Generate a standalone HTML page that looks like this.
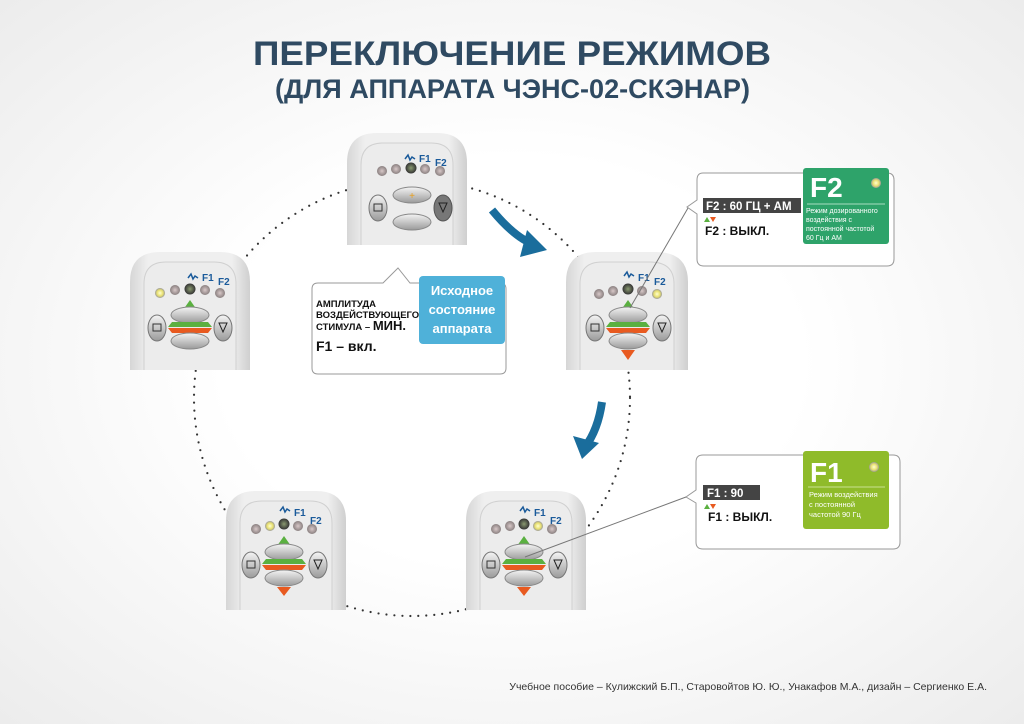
<!DOCTYPE html>
<html><head><meta charset="utf-8"><style>
body{margin:0;width:1024px;height:724px;overflow:hidden;background:radial-gradient(ellipse at 50% 50%,#ffffff 40%,#ececec 100%);font-family:"Liberation Sans",sans-serif}
svg{position:absolute;left:0;top:0}
</style></head><body>
<svg width="1024" height="724" viewBox="0 0 1024 724" font-family="Liberation Sans, sans-serif">
<defs>
<linearGradient id="bd" x1="0" x2="1"><stop offset="0" stop-color="#d6d6d6"/><stop offset=".15" stop-color="#efefef"/><stop offset=".85" stop-color="#efefef"/><stop offset="1" stop-color="#cfcfcf"/></linearGradient>
<linearGradient id="bt" x1="0" y1="0" x2="0" y2="1"><stop offset="0" stop-color="#f4f4f4"/><stop offset="1" stop-color="#9a9a9a"/></linearGradient>
<radialGradient id="led"><stop offset="0" stop-color="#d8c8c8"/><stop offset="1" stop-color="#8a8080"/></radialGradient>
<radialGradient id="ledg"><stop offset="0" stop-color="#8a9a70"/><stop offset="1" stop-color="#333"/></radialGradient>
<radialGradient id="ledy"><stop offset="0" stop-color="#ffffd0"/><stop offset=".6" stop-color="#e8e070"/><stop offset="1" stop-color="#999"/></radialGradient>
</defs>
<text x="253" y="65" font-size="34" font-weight="bold" fill="#2f4a62" textLength="518" lengthAdjust="spacingAndGlyphs">ПЕРЕКЛЮЧЕНИЕ РЕЖИМОВ</text>
<text x="275" y="98" font-size="27" font-weight="bold" fill="#2f4a62" textLength="475" lengthAdjust="spacingAndGlyphs">(ДЛЯ АППАРАТА ЧЭНС-02-СКЭНАР)</text>
<circle cx="412" cy="398" r="218" fill="none" stroke="#333" stroke-width="2.2" stroke-dasharray="0 8" stroke-linecap="round"/>
<!-- blue arrows -->
<path d="M492 210 Q515 238 535 245" fill="none" stroke="#1a6d9c" stroke-width="8"/>
<path d="M527 230 L547 250 L520 257 Z" fill="#1a6d9c"/>
<path d="M602 402 Q598 430 585 447" fill="none" stroke="#1a6d9c" stroke-width="8"/>
<path d="M573 436 L582 459 L599 443 Z" fill="#1a6d9c"/>

<!-- devices -->
<g transform="translate(347,133)">
<path d="M0 112 V30 Q0 0 30 0 H90 Q120 0 120 30 V112 Z" fill="url(#bd)"/>
<path d="M14 112 V32 Q14 10 36 10 H84 Q106 10 106 32 V112" fill="#ececec" stroke="#d0d0d0"/>
<path d="M58 26 l3 -4 2 5 2 -3 3 2" stroke="#1a5a9a" fill="none" stroke-width="1.5"/><text x="72" y="29" font-size="10" font-weight="bold" fill="#1a5a9a">F1</text><text x="88" y="33" font-size="10" font-weight="bold" fill="#1a5a9a">F2</text>
<circle cx="35" cy="38" r="5" fill="url(#led)"/><circle cx="49" cy="36" r="5" fill="url(#led)"/><circle cx="64" cy="35" r="5.5" fill="url(#ledg)"/><circle cx="78" cy="36" r="5" fill="url(#led)"/><circle cx="93" cy="38" r="5" fill="url(#led)"/>
<ellipse cx="65" cy="62" rx="19" ry="8" fill="url(#bt)" stroke="#888"/><text x="65" y="66" font-size="10" text-anchor="middle" fill="#e8a020">+</text>
<ellipse cx="65" cy="89" rx="19" ry="8" fill="url(#bt)" stroke="#888"/>
<ellipse cx="31" cy="75" rx="9" ry="13" fill="url(#bt)" stroke="#777"/><rect x="27" y="71" width="8" height="7" fill="none" stroke="#333"/>
<ellipse cx="96" cy="75" rx="9" ry="13" fill="#777" stroke="#555"/><path d="M92 70 h8 l-4 9 z" fill="none" stroke="#222"/>
</g>

<g transform="translate(130,252)">
<path d="M0 118 V30 Q0 0 30 0 H90 Q120 0 120 30 V118 Z" fill="url(#bd)"/>
<path d="M14 118 V32 Q14 10 36 10 H84 Q106 10 106 32 V118" fill="#ececec" stroke="#d0d0d0"/>
<path d="M58 26 l3 -4 2 5 2 -3 3 2" stroke="#1a5a9a" fill="none" stroke-width="1.5"/><text x="72" y="29" font-size="10" font-weight="bold" fill="#1a5a9a">F1</text><text x="88" y="33" font-size="10" font-weight="bold" fill="#1a5a9a">F2</text>
<circle cx="30" cy="41" r="5" fill="url(#ledy)"/><circle cx="45" cy="38" r="5" fill="url(#led)"/><circle cx="60" cy="37" r="5.5" fill="url(#ledg)"/><circle cx="75" cy="38" r="5" fill="url(#led)"/><circle cx="90" cy="41" r="5" fill="url(#led)"/>
<path d="M53 58 L60 48 L67 58 Z" fill="#5ab040"/>
<ellipse cx="60" cy="63" rx="19" ry="8" fill="url(#bt)" stroke="#888"/>
<path d="M38 75 L82 75 L78 70 L42 70 Z" fill="#5ab040"/><path d="M38 76 L82 76 L78 81 L42 81 Z" fill="#e85a20"/>
<ellipse cx="60" cy="89" rx="19" ry="8" fill="url(#bt)" stroke="#888"/>
<ellipse cx="27" cy="76" rx="9" ry="13" fill="url(#bt)" stroke="#777"/><rect x="23" y="72" width="8" height="7" fill="none" stroke="#333"/>
<ellipse cx="93" cy="76" rx="9" ry="13" fill="url(#bt)" stroke="#777"/><path d="M89 71 h8 l-4 9 z" fill="none" stroke="#222"/>
</g>

<g transform="translate(566,252)">
<path d="M0 118 V30 Q0 0 30 0 H90 Q122 0 122 30 V118 Z" fill="url(#bd)"/>
<path d="M14 118 V32 Q14 10 36 10 H84 Q108 10 108 32 V118" fill="#ececec" stroke="#d0d0d0"/>
<path d="M58 24 l3 -4 2 5 2 -3 3 2" stroke="#1a5a9a" fill="none" stroke-width="1.5"/><text x="72" y="29" font-size="10" font-weight="bold" fill="#1a5a9a">F1</text><text x="88" y="33" font-size="10" font-weight="bold" fill="#1a5a9a">F2</text>
<circle cx="33" cy="42" r="5" fill="url(#led)"/><circle cx="47" cy="39" r="5" fill="url(#led)"/><circle cx="62" cy="37" r="5.5" fill="url(#ledg)"/><circle cx="76" cy="39" r="5" fill="url(#led)"/><circle cx="91" cy="42" r="5" fill="url(#ledy)"/>
<path d="M55 58 L62 48 L69 58 Z" fill="#5ab040"/>
<ellipse cx="62" cy="63" rx="19" ry="8" fill="url(#bt)" stroke="#888"/>
<path d="M40 75 L84 75 L80 70 L44 70 Z" fill="#5ab040"/><path d="M40 76 L84 76 L80 81 L44 81 Z" fill="#e85a20"/>
<ellipse cx="62" cy="89" rx="19" ry="8" fill="url(#bt)" stroke="#888"/>
<path d="M55 98 L69 98 L62 108 Z" fill="#e85a20"/>
<ellipse cx="29" cy="76" rx="9" ry="13" fill="url(#bt)" stroke="#777"/><rect x="25" y="72" width="8" height="7" fill="none" stroke="#333"/>
<ellipse cx="96" cy="76" rx="9" ry="13" fill="url(#bt)" stroke="#777"/><path d="M92 71 h8 l-4 9 z" fill="none" stroke="#222"/>
</g>

<g transform="translate(226,491)">
<path d="M0 119 V30 Q0 0 30 0 H90 Q120 0 120 30 V119 Z" fill="url(#bd)"/>
<path d="M14 119 V32 Q14 10 36 10 H84 Q106 10 106 32 V119" fill="#ececec" stroke="#d0d0d0"/>
<path d="M54 20 l3 -4 2 5 2 -3 3 2" stroke="#1a5a9a" fill="none" stroke-width="1.5"/><text x="68" y="25" font-size="10" font-weight="bold" fill="#1a5a9a">F1</text><text x="84" y="33" font-size="10" font-weight="bold" fill="#1a5a9a">F2</text>
<circle cx="30" cy="38" r="5" fill="url(#led)"/><circle cx="44" cy="35" r="5" fill="url(#ledy)"/><circle cx="58" cy="33" r="5.5" fill="url(#ledg)"/><circle cx="72" cy="35" r="5" fill="url(#led)"/><circle cx="86" cy="38" r="5" fill="url(#led)"/>
<path d="M51 55 L58 45 L65 55 Z" fill="#5ab040"/>
<ellipse cx="58" cy="61" rx="19" ry="8" fill="url(#bt)" stroke="#888"/>
<path d="M36 73 L80 73 L76 68 L40 68 Z" fill="#5ab040"/><path d="M36 74 L80 74 L76 79 L40 79 Z" fill="#e85a20"/>
<ellipse cx="58" cy="87" rx="19" ry="8" fill="url(#bt)" stroke="#888"/>
<path d="M51 96 L65 96 L58 105 Z" fill="#e85a20"/>
<ellipse cx="25" cy="74" rx="9" ry="13" fill="url(#bt)" stroke="#777"/><rect x="21" y="70" width="8" height="7" fill="none" stroke="#333"/>
<ellipse cx="92" cy="74" rx="9" ry="13" fill="url(#bt)" stroke="#777"/><path d="M88 69 h8 l-4 9 z" fill="none" stroke="#222"/>
</g>

<g transform="translate(466,491)">
<path d="M0 119 V30 Q0 0 30 0 H90 Q120 0 120 30 V119 Z" fill="url(#bd)"/>
<path d="M14 119 V32 Q14 10 36 10 H84 Q106 10 106 32 V119" fill="#ececec" stroke="#d0d0d0"/>
<path d="M54 20 l3 -4 2 5 2 -3 3 2" stroke="#1a5a9a" fill="none" stroke-width="1.5"/><text x="68" y="25" font-size="10" font-weight="bold" fill="#1a5a9a">F1</text><text x="84" y="33" font-size="10" font-weight="bold" fill="#1a5a9a">F2</text>
<circle cx="30" cy="38" r="5" fill="url(#led)"/><circle cx="44" cy="35" r="5" fill="url(#led)"/><circle cx="58" cy="33" r="5.5" fill="url(#ledg)"/><circle cx="72" cy="35" r="5" fill="url(#ledy)"/><circle cx="86" cy="38" r="5" fill="url(#led)"/>
<path d="M51 55 L58 45 L65 55 Z" fill="#5ab040"/>
<ellipse cx="58" cy="61" rx="19" ry="8" fill="url(#bt)" stroke="#888"/>
<path d="M36 73 L80 73 L76 68 L40 68 Z" fill="#5ab040"/><path d="M36 74 L80 74 L76 79 L40 79 Z" fill="#e85a20"/>
<ellipse cx="58" cy="87" rx="19" ry="8" fill="url(#bt)" stroke="#888"/>
<path d="M51 96 L65 96 L58 105 Z" fill="#e85a20"/>
<ellipse cx="25" cy="74" rx="9" ry="13" fill="url(#bt)" stroke="#777"/><rect x="21" y="70" width="8" height="7" fill="none" stroke="#333"/>
<ellipse cx="92" cy="74" rx="9" ry="13" fill="url(#bt)" stroke="#777"/><path d="M88 69 h8 l-4 9 z" fill="none" stroke="#222"/>
</g>

<!-- center callout -->
<path d="M318 283 H383 L398 268 L410 283 H500 Q506 283 506 289 V368 Q506 374 500 374 H318 Q312 374 312 368 V289 Q312 283 318 283 Z" fill="#fff" stroke="#999"/>
<rect x="419" y="276" width="86" height="68" rx="4" fill="#4fb1d9"/>
<text font-size="13" font-weight="bold" fill="#fff" text-anchor="middle"><tspan x="462" y="295">Исходное</tspan><tspan x="462" y="314">состояние</tspan><tspan x="462" y="333">аппарата</tspan></text>
<text font-size="9.5" font-weight="bold" fill="#111"><tspan x="316" y="307">АМПЛИТУДА</tspan><tspan x="316" y="318">ВОЗДЕЙСТВУЮЩЕГО</tspan><tspan x="316" y="330">СТИМУЛА – <tspan font-size="13">МИН.</tspan></tspan></text>
<text x="316" y="351" font-size="14" font-weight="bold" fill="#111">F1 – вкл.</text>

<!-- F2 callout -->
<path d="M703 173 H887 Q894 173 894 180 V259 Q894 266 887 266 H704 Q697 266 697 259 V214 L687 207 L697 200 V180 Q697 173 703 173 Z" fill="#fff" stroke="#999"/>
<line x1="688" y1="208" x2="630" y2="308" stroke="#777"/>
<rect x="803" y="168" width="86" height="76" rx="3" fill="#2ea36a"/>
<text x="810" y="197" font-size="28" font-weight="bold" fill="#fff">F2</text>
<circle cx="876" cy="183" r="5" fill="url(#ledy)"/>
<line x1="807" y1="204" x2="885" y2="204" stroke="#a8dcc0"/>
<text font-size="7" fill="#fff"><tspan x="806" y="213">Режим дозированного</tspan><tspan x="806" y="222">воздействия с</tspan><tspan x="806" y="231">постоянной частотой</tspan><tspan x="806" y="240">60 Гц и АМ</tspan></text>
<rect x="703" y="198" width="98" height="15" fill="#444"/>
<text x="706" y="210" font-size="11.5" font-weight="bold" fill="#fff">F2 : 60 ГЦ + АМ</text>
<path d="M704 222 l3 -5 3 5z" fill="#5ab040"/><path d="M710 217 h6 l-3 5z" fill="#e85a20"/>
<text x="705" y="235" font-size="12" font-weight="bold" fill="#111">F2 : ВЫКЛ.</text>

<!-- F1 callout -->
<path d="M703 455 H893 Q900 455 900 462 V542 Q900 549 893 549 H703 Q696 549 696 542 V503 L686 497 L696 490 V462 Q696 455 703 455 Z" fill="#fff" stroke="#999"/>
<line x1="686" y1="497" x2="525" y2="557" stroke="#777"/>
<rect x="803" y="451" width="86" height="78" rx="3" fill="#8fbb2a"/>
<text x="810" y="482" font-size="28" font-weight="bold" fill="#fff">F1</text>
<circle cx="874" cy="467" r="5" fill="url(#ledy)"/>
<line x1="808" y1="487" x2="885" y2="487" stroke="#c8e090"/>
<text font-size="7.5" fill="#fff"><tspan x="809" y="497">Режим воздействия</tspan><tspan x="809" y="507">с постоянной</tspan><tspan x="809" y="517">частотой 90 Гц</tspan></text>
<rect x="703" y="485" width="57" height="15" fill="#444"/>
<text x="707" y="497" font-size="11.5" font-weight="bold" fill="#fff">F1 : 90</text>
<path d="M704 509 l3 -5 3 5z" fill="#5ab040"/><path d="M710 504 h6 l-3 5z" fill="#e85a20"/>
<text x="708" y="521" font-size="12" font-weight="bold" fill="#111">F1 : ВЫКЛ.</text>

<text x="987" y="690" text-anchor="end" font-size="10.5" fill="#333">Учебное пособие –  Кулижский Б.П., Старовойтов Ю. Ю., Унакафов М.А., дизайн – Сергиенко Е.А.</text>
</svg>
</body></html>
